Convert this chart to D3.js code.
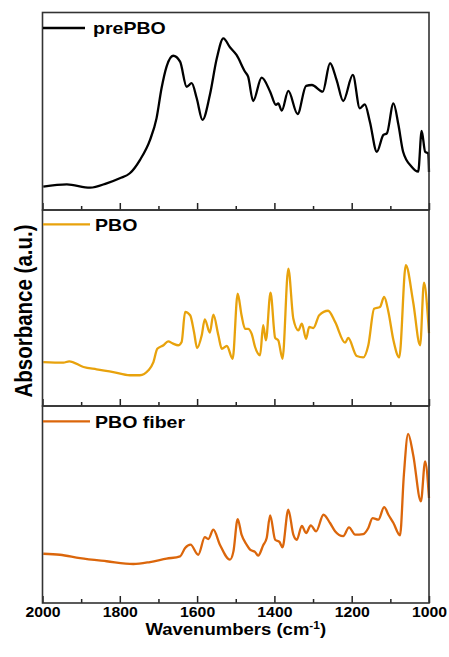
<!DOCTYPE html>
<html>
<head>
<meta charset="utf-8">
<script src="https://cdn.jsdelivr.net/npm/d3@7"></script>
<style>
  body { margin: 0; background: #fff; }
  text { font-family: "Liberation Sans", Arial, sans-serif; font-weight: bold; fill: #000; }
</style>
</head>
<body>
<div id="chart"></div>
<script>
// Data (absorbance in arbitrary units, each spectrum on its own 0-1 panel scale)
var prePBO_wn = [1998,1937,1877,1834,1800,1774,1748,1722,1705,1692,1679,1662,1644,1627,1614,1601,1586,1567,1549,1532,1515,1498,1476,1468,1455,1433,1411,1396,1390,1381,1364,1340,1318,1303,1275,1256,1239,1222,1197,1179,1166,1153,1135,1118,1109,1092,1079,1067,1045,1028,1019,1010,1002,1000];
var prePBO_abs = [0.118,0.130,0.113,0.135,0.161,0.186,0.253,0.354,0.464,0.616,0.726,0.781,0.751,0.624,0.642,0.566,0.456,0.582,0.768,0.869,0.824,0.785,0.700,0.675,0.552,0.670,0.599,0.532,0.540,0.503,0.603,0.486,0.629,0.633,0.599,0.743,0.658,0.552,0.684,0.515,0.535,0.447,0.295,0.380,0.388,0.540,0.430,0.295,0.219,0.194,0.400,0.295,0.287,0.192];

var PBO_wn = [1998,1946,1931,1894,1860,1817,1774,1748,1726,1713,1703,1687,1675,1662,1649,1640,1631,1618,1608,1600,1588,1580,1567,1558,1545,1536,1523,1508,1495,1485,1476,1468,1459,1450,1437,1429,1422,1410,1398,1390,1379,1364,1351,1338,1329,1318,1310,1299,1284,1261,1243,1217,1209,1187,1170,1157,1142,1127,1116,1105,1092,1077,1060,1041,1023,1013,1002,1000];
var PBO_abs = [0.224,0.221,0.228,0.199,0.187,0.173,0.157,0.157,0.182,0.224,0.292,0.310,0.330,0.318,0.310,0.327,0.480,0.463,0.378,0.296,0.361,0.442,0.374,0.466,0.361,0.292,0.306,0.241,0.573,0.463,0.394,0.394,0.369,0.301,0.259,0.412,0.335,0.578,0.347,0.335,0.241,0.701,0.445,0.386,0.420,0.343,0.403,0.398,0.463,0.486,0.429,0.323,0.347,0.255,0.248,0.310,0.496,0.505,0.556,0.480,0.335,0.248,0.718,0.531,0.310,0.629,0.429,0.372];

var fiber_wn = [1998,1955,1903,1834,1765,1722,1679,1644,1631,1617,1597,1580,1571,1558,1541,1515,1506,1495,1485,1472,1463,1450,1442,1429,1420,1411,1398,1387,1379,1364,1351,1342,1329,1318,1306,1292,1273,1256,1243,1222,1207,1191,1170,1157,1146,1131,1116,1105,1092,1075,1065,1054,1041,1021,1010,1000];
var fiber_abs = [0.250,0.245,0.228,0.212,0.198,0.208,0.225,0.237,0.279,0.296,0.245,0.334,0.325,0.372,0.296,0.220,0.262,0.426,0.347,0.296,0.271,0.259,0.240,0.293,0.330,0.445,0.321,0.310,0.283,0.474,0.347,0.321,0.392,0.355,0.394,0.364,0.448,0.406,0.364,0.339,0.384,0.347,0.350,0.381,0.431,0.423,0.487,0.448,0.406,0.344,0.651,0.858,0.753,0.516,0.719,0.533];

var seriesNames = ["prePBO", "PBO", "PBO fiber"];
var seriesColors = ["#000000", "#E8A20C", "#DB660B"];
var majorTicks = [2000, 1800, 1600, 1400, 1200, 1000];
var minorTicks = [1900, 1700, 1500, 1300, 1100];
var tickLabels = ["2000", "1800", "1600", "1400", "1200", "1000"];

var width = 449,
	height = 657;
var SX = 1.13; // text in the source is a bit wider than tall

var svg = d3.select("#chart")
	.append("svg")
	.attr("width", width)
	.attr("height", height);

var left = 42.5, right = 429;
var panelTops = [12.5, 210, 406];
var panelBottoms = [210, 406, 603];

var x = d3.scaleLinear().domain([2000, 1000]).range([left, right]);

var spectra = [
	{wn: prePBO_wn, abs: prePBO_abs},
	{wn: PBO_wn, abs: PBO_abs},
	{wn: fiber_wn, abs: fiber_abs}
];

// legend placement per panel
var legendLine = [[43, 85, 28], [43, 90, 224.3], [43, 90, 421.3]];
var legendText = [[93, 34], [95, 231], [95, 428]];

spectra.forEach(function(s, i) {
	var y = d3.scaleLinear().domain([0, 1]).range([panelBottoms[i], panelTops[i]]);
	var pts = s.wn.map(function(w, j) { return [w, s.abs[j]]; });

	var line = d3.line()
		.x(function(d) { return x(d[0]); })
		.y(function(d) { return y(d[1]); })
		.curve(d3.curveMonotoneX);

	var g = svg.append("g").attr("class", "panel");

	g.append("path")
		.datum(pts)
		.attr("d", line)
		.attr("fill", "none")
		.attr("stroke", seriesColors[i])
		.attr("stroke-width", 2.3)
		.attr("stroke-linejoin", "round");

	// inward ticks on the bottom edge
	var major = d3.axisBottom(x).tickValues(majorTicks).tickSize(-7).tickFormat("");
	var minor = d3.axisBottom(x).tickValues(minorTicks).tickSize(-4).tickFormat("");
	var ga = g.append("g").attr("transform", "translate(0," + panelBottoms[i] + ")").call(major);
	var gm = g.append("g").attr("transform", "translate(0," + panelBottoms[i] + ")").call(minor);
	[ga, gm].forEach(function(a) {
		a.select(".domain").remove();
		a.selectAll("line").attr("stroke", "#222").attr("stroke-width", 1.5);
	});

	// frame
	g.append("rect")
		.attr("x", left).attr("y", panelTops[i])
		.attr("width", right - left).attr("height", panelBottoms[i] - panelTops[i])
		.attr("fill", "none")
		.attr("stroke", "#333")
		.attr("stroke-width", 1.6);

	// legend
	g.append("line")
		.attr("x1", legendLine[i][0]).attr("x2", legendLine[i][1])
		.attr("y1", legendLine[i][2]).attr("y2", legendLine[i][2])
		.attr("stroke", seriesColors[i])
		.attr("stroke-width", 2.3);
	g.append("text")
		.attr("transform", "translate(" + legendText[i][0] + "," + legendText[i][1] + ") scale(" + SX + ",1)")
		.style("font-size", "17.3px")
		.text(seriesNames[i]);
});

// tick labels under the bottom panel
var labels = d3.axisBottom(x).tickValues(majorTicks).tickSize(0)
	.tickFormat(function(d, i) { return tickLabels[i]; });
var gl = svg.append("g").attr("transform", "translate(0," + panelBottoms[2] + ")").call(labels);
gl.select(".domain").remove();
gl.selectAll("text")
	.attr("y", 13.7).attr("dy", 0)
	.attr("transform", "scale(" + SX + ",1)")
	.attr("fill", "#000")
	.style("font-size", "14px")
	.style("font-family", "'Liberation Sans', Arial, sans-serif")
	.style("font-weight", "bold");

// axis titles
var xt = svg.append("text")
	.attr("transform", "translate(" + ((left + right) / 2) + ",635) scale(" + SX + ",1)")
	.attr("text-anchor", "middle")
	.style("font-size", "16.4px");
xt.append("tspan").text("Wavenumbers (cm");
xt.append("tspan").attr("dy", -6).style("font-size", "10.5px").text("-1");
xt.append("tspan").attr("dy", 6).text(")");

svg.append("text")
	.attr("transform", "translate(32,311) scale(" + SX + ",1) rotate(-90)")
	.attr("text-anchor", "middle")
	.style("font-size", "20.5px")
	.text("Absorbance (a.u.)");
</script>
</body>
</html>
